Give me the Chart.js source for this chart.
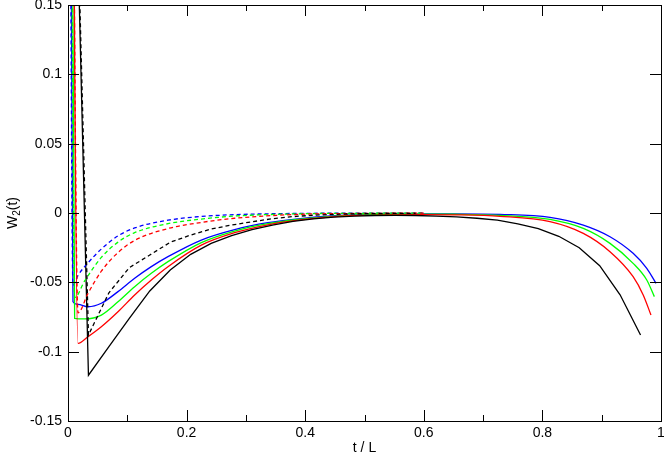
<!DOCTYPE html>
<html>
<head>
<meta charset="utf-8">
<script src="https://cdn.jsdelivr.net/npm/chart.js@4.4.1/dist/chart.umd.min.js"></script>
<style>
  html, body { margin: 0; padding: 0; background: #fff; }
  #wrap { width: 664px; height: 459px; }
</style>
</head>
<body>
<div id="wrap"><canvas id="chart" width="664" height="459"></canvas></div>
<script>
// --- dane ---

// oś x (t / L) i oś y
const xMajorTicks = [0, 0.2, 0.4, 0.6, 0.8, 1];
const xMinorTicks = [0.1, 0.3, 0.5, 0.7, 0.9];
const yTicks = [-0.15, -0.1, -0.05, 0, 0.05, 0.1, 0.15];

// czarne (L = 30): próbki co 1/29
const tBlack = [0, 0.0345, 0.069, 0.1034, 0.1379, 0.1724, 0.2069, 0.2414, 0.2759, 0.3103,
  0.3448, 0.3793, 0.4138, 0.4483, 0.4828, 0.5172, 0.5517, 0.5862, 0.6207, 0.6552,
  0.6897, 0.7241, 0.7586, 0.7931, 0.8276, 0.8621, 0.8966, 0.931, 0.9655];
const blackSolid = [0.48, -0.117, -0.0964, -0.076, -0.0562, -0.0411, -0.0298, -0.0219, -0.0164, -0.012,
  -0.0087, -0.006, -0.0042, -0.003, -0.0022, -0.0018, -0.0017, -0.0018, -0.0022, -0.0028,
  -0.0038, -0.0052, -0.0078, -0.0112, -0.0168, -0.025, -0.038, -0.059, -0.088];
const blackDashed = [0.48, -0.088, -0.0575, -0.0394, -0.0303, -0.0211, -0.0159, -0.0115, -0.0087, -0.0063,
  -0.0041, -0.0026, -0.0016, -0.001, -0.0006, -0.0004, -0.0003, -0.0002];

// czerwone (L = 60)
const tRed = [0, 0.0169, 0.0337, 0.0562, 0.0843, 0.1124, 0.1405, 0.1686, 0.2248, 0.281,
  0.337, 0.388, 0.45, 0.5, 0.55, 0.6, 0.65, 0.7285, 0.8128, 0.869, 0.914, 0.953, 0.97, 0.9831];
const redSolid = [1.0, -0.094, -0.0892, -0.082, -0.0712, -0.0591, -0.0483, -0.0387, -0.0232, -0.0142,
  -0.0085, -0.0052, -0.0026, -0.0017, -0.0013, -0.0011, -0.0013, -0.0024, -0.0062, -0.0147,
  -0.0279, -0.0459, -0.0591, -0.0736];
const tRedDash = [0, 0.0169, 0.0337, 0.0562, 0.0843, 0.1124, 0.1686, 0.2248, 0.281, 0.388, 0.5, 0.6];
const redDashed = [1.0, -0.072, -0.058, -0.042, -0.0285, -0.0198, -0.0112, -0.0068, -0.0038, -0.001, -0.0003, -0.0001];

// zielone (L = 90)
const tGreen = [0, 0.0112, 0.0281, 0.0562, 0.0843, 0.1124, 0.1405, 0.1686, 0.2248, 0.281,
  0.337, 0.388, 0.45, 0.5, 0.55, 0.6, 0.65, 0.7285, 0.8128, 0.869, 0.914, 0.953, 0.976, 0.9888];
const greenSolid = [0.9, -0.076, -0.0764, -0.0736, -0.064, -0.0531, -0.0435, -0.0351, -0.0213, -0.013,
  -0.0077, -0.0047, -0.0023, -0.0014, -0.001, -0.0008, -0.0009, -0.0017, -0.0046, -0.0111,
  -0.0219, -0.0363, -0.0483, -0.0603];
const tGreenDash = [0, 0.0112, 0.0281, 0.0562, 0.0843, 0.1124, 0.1686, 0.2248, 0.281, 0.388, 0.5, 0.6];
const greenDashed = [0.9, -0.061, -0.049, -0.032, -0.021, -0.0142, -0.0077, -0.0044, -0.0022, -0.0006, -0.0002, -0.0001];

// niebieskie (L = 120)
const tBlue = [0, 0.0084, 0.0169, 0.0337, 0.0562, 0.0843, 0.1124, 0.1405, 0.1686, 0.2248,
  0.281, 0.337, 0.388, 0.45, 0.5, 0.55, 0.6, 0.65, 0.7285, 0.8128, 0.869, 0.914, 0.953, 0.976, 0.9916];
const blueSolid = [0.7, -0.064, -0.0659, -0.0676, -0.0651, -0.0567, -0.0471, -0.0387, -0.0315, -0.0195,
  -0.012, -0.007, -0.0042, -0.002, -0.0012, -0.0008, -0.0006, -0.0006, -0.001, -0.0031,
  -0.0087, -0.0171, -0.0291, -0.0399, -0.0507];
const tBlueDash = [0, 0.0084, 0.0169, 0.0337, 0.0562, 0.0843, 0.1124, 0.1686, 0.2248, 0.281, 0.388, 0.5, 0.6];
const blueDashed = [0.7, -0.052, -0.045, -0.036, -0.026, -0.0165, -0.0108, -0.0052, -0.0025, -0.0012, -0.0003, -0.0001, 0];

// --- helpery ---

const FONT = "'Liberation Sans', Arial, Helvetica, sans-serif";

function toPoints(ts, vals) {
    return vals.map((v, i) => ({ x: ts[i], y: v }));
}

function series(ts, vals, color, dashed, smooth) {
    return {
        data: toPoints(ts, vals),
        borderColor: color,
        borderWidth: 1.3,
        borderDash: dashed ? [4, 3] : [],
        pointRadius: 0,
        fill: false,
        tension: 0,
        cubicInterpolationMode: smooth ? 'monotone' : 'default'
    };
}

// ramka z tickami skierowanymi do środka (jak w Grace)
const framePlugin = {
    id: 'frame',
    afterDraw(chart) {
        const { ctx, chartArea: a, scales } = chart;
        const xs = scales.x, ys = scales.y;
        ctx.save();
        ctx.strokeStyle = '#000';
        ctx.lineWidth = 1;
        ctx.strokeRect(Math.round(a.left) + 0.5, Math.round(a.top) + 0.5,
            Math.round(a.right - a.left), Math.round(a.bottom - a.top));

        ctx.beginPath();
        xMajorTicks.forEach(t => {
            const px = Math.round(xs.getPixelForValue(t)) + 0.5;
            ctx.moveTo(px, a.bottom); ctx.lineTo(px, a.bottom - 11);
            ctx.moveTo(px, a.top); ctx.lineTo(px, a.top + 11);
        });
        xMinorTicks.forEach(t => {
            const px = Math.round(xs.getPixelForValue(t)) + 0.5;
            ctx.moveTo(px, a.bottom); ctx.lineTo(px, a.bottom - 6);
            ctx.moveTo(px, a.top); ctx.lineTo(px, a.top + 6);
        });
        yTicks.forEach(v => {
            const py = Math.round(ys.getPixelForValue(v)) + 0.5;
            ctx.moveTo(a.left, py); ctx.lineTo(a.left + 11, py);
            ctx.moveTo(a.right, py); ctx.lineTo(a.right - 11, py);
        });
        ctx.stroke();

        // etykieta osi y: W_2(t) z indeksem dolnym
        ctx.fillStyle = '#000';
        ctx.translate(12, (a.top + a.bottom) / 2);
        ctx.rotate(-Math.PI / 2);
        ctx.textBaseline = 'alphabetic';
        ctx.font = '14px ' + FONT;
        const wW = ctx.measureText('W').width;
        const wT = ctx.measureText('(t)').width;
        ctx.font = '10px ' + FONT;
        const w2 = ctx.measureText('2').width;
        let x = -(wW + w2 + wT) / 2;
        ctx.font = '14px ' + FONT;
        ctx.fillText('W', x, 5);
        x += wW;
        ctx.font = '10px ' + FONT;
        ctx.fillText('2', x, 8);
        x += w2;
        ctx.font = '14px ' + FONT;
        ctx.fillText('(t)', x, 5);
        ctx.restore();
    }
};

new Chart(document.getElementById('chart'), {
    type: 'line',
    data: {
        datasets: [
            series(tBlack, blackDashed, '#000000', true, false),
            series(tRedDash, redDashed, '#ff0000', true, true),
            series(tGreenDash, greenDashed, '#00ff00', true, true),
            series(tBlueDash, blueDashed, '#0000ff', true, true),
            series(tBlack, blackSolid, '#000000', false, false),
            series(tRed, redSolid, '#ff0000', false, true),
            series(tGreen, greenSolid, '#00ff00', false, true),
            series(tBlue, blueSolid, '#0000ff', false, true)
        ]
    },
    options: {
        responsive: false,
        animation: false,
        layout: { padding: { top: 5, right: 3, left: 0, bottom: 0 } },
        plugins: { legend: { display: false }, tooltip: { enabled: false } },
        scales: {
            x: {
                type: 'linear',
                min: 0, max: 1,
                grid: { display: false, drawTicks: false },
                border: { display: false },
                afterBuildTicks: s => { s.ticks = xMajorTicks.map(v => ({ value: v })); },
                afterFit: s => { s.height = 38; s.paddingLeft = 0; s.paddingRight = 0; },
                ticks: {
                    color: '#000',
                    font: { family: FONT, size: 14 },
                    padding: 4,
                    maxRotation: 0,
                    callback: v => String(v)
                },
                title: {
                    display: true,
                    text: 't / L',
                    color: '#000',
                    font: { family: FONT, size: 14 },
                    padding: { top: 0, bottom: 2 }
                }
            },
            y: {
                type: 'linear',
                min: -0.15, max: 0.15,
                grid: { display: false, drawTicks: false },
                border: { display: false },
                afterBuildTicks: s => { s.ticks = yTicks.map(v => ({ value: v })); },
                afterFit: s => { s.width = 68; s.paddingTop = 0; s.paddingBottom = 0; },
                ticks: {
                    color: '#000',
                    font: { family: FONT, size: 14 },
                    padding: 6,
                    callback: v => String(v)
                }
            }
        }
    },
    plugins: [framePlugin]
});
</script>
</body>
</html>
